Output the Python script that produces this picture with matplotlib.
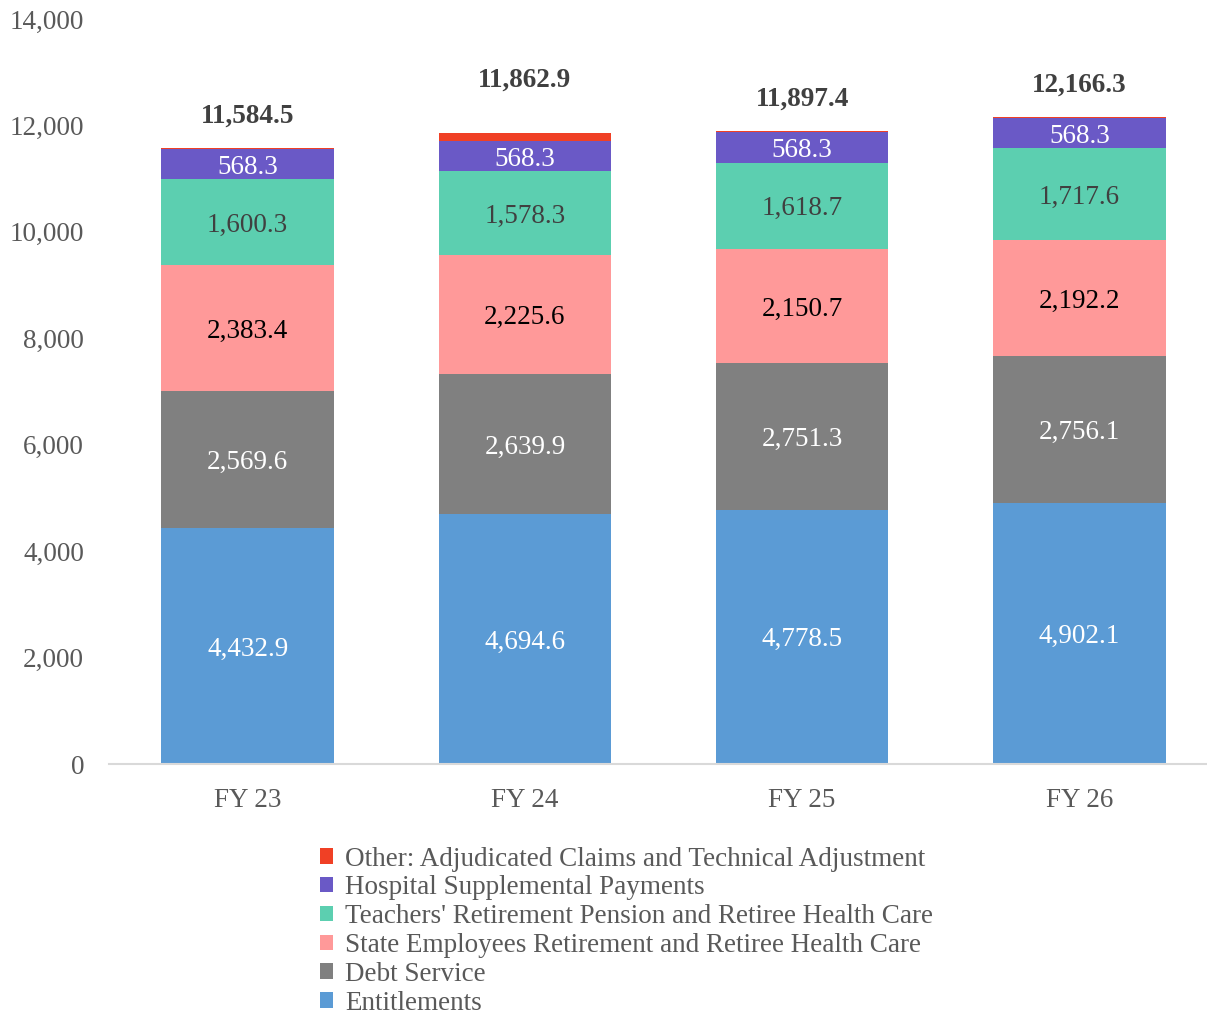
import matplotlib.pyplot as plt
import numpy as np

plt.rcParams['font.family'] = ['Liberation Serif', 'DejaVu Serif']

years = ['FY 23', 'FY 24', 'FY 25', 'FY 26']
entitlements = [4432.9, 4694.6, 4778.5, 4902.1]
debt_service = [2569.6, 2639.9, 2751.3, 2756.1]
state_emp = [2383.4, 2225.6, 2150.7, 2192.2]
teachers = [1600.3, 1578.3, 1618.7, 1717.6]
hospital = [568.3, 568.3, 568.3, 568.3]
other = [30.0, 156.2, 29.9, 30.0]
totals = [11584.5, 11862.9, 11897.4, 12166.3]

series = [
    ('Entitlements', entitlements, '#5B9BD5', 'white', True),
    ('Debt Service', debt_service, '#808080', 'white', True),
    ('State Employees Retirement and Retiree Health Care', state_emp, '#FF9999', 'black', True),
    ("Teachers' Retirement Pension and Retiree Health Care", teachers, '#5CCFB0', '#404040', True),
    ('Hospital Supplemental Payments', hospital, '#6A59C6', 'white', True),
    ('Other: Adjudicated Claims and Technical Adjustment', other, '#F04025', 'white', False),
]

fig = plt.figure(figsize=(12.07, 10.17), dpi=100)
ax = fig.add_axes([109/1207, 253/1017, (1218-109)/1207, 745/1017])

x = np.arange(len(years))
bottom = np.zeros(len(years))
handles = []
for name, vals, col, tcol, show in series:
    vals = np.array(vals)
    b = ax.bar(x, vals, 0.623, bottom=bottom, color=col, label=name)
    handles.append(b)
    if show:
        for xi, v, bt in zip(x, vals, bottom):
            ax.text(xi, bt + v/2, f'{v:,.1f}', ha='center', va='center_baseline',
                    color=tcol, fontsize=19.5)
    bottom += vals

# total labels sit above the bars (FY 24 label is placed higher in the original)
total_offsets = [13.5, 28.5, 13.5, 13.5]
for xi, t, off in zip(x, totals, total_offsets):
    ax.annotate(f'{t:,.1f}', (xi, t), xytext=(0, off), textcoords='offset points',
                ha='center', va='bottom', color='#404040', fontsize=19.5,
                fontweight='bold')

ax.set_xlim(-0.5, 3.5)
ax.set_ylim(0, 14000)
ax.set_yticks(np.arange(0, 14001, 2000))
ax.set_yticklabels([f'{v:,}' for v in range(0, 14001, 2000)])
ax.set_xticks(x)
ax.set_xticklabels(years)
ax.tick_params(axis='y', length=0, pad=18, labelsize=19.5, labelcolor='#595959')
ax.tick_params(axis='x', length=0, pad=17, labelsize=19.5, labelcolor='#595959')
for s in ['top', 'right', 'left']:
    ax.spines[s].set_visible(False)
ax.spines['bottom'].set_color('#D9D9D9')
ax.spines['bottom'].set_linewidth(1.5)

fig.legend(handles[::-1], [s[0] for s in series][::-1], loc='upper left',
           bbox_to_anchor=(306/1207, 1 - 833/1017), frameon=False, fontsize=19.5,
           labelcolor='#595959', handlelength=0.5, handleheight=0.5,
           handletextpad=0.45, labelspacing=0.14, borderpad=0)

fig.savefig('out.png', dpi=100)
